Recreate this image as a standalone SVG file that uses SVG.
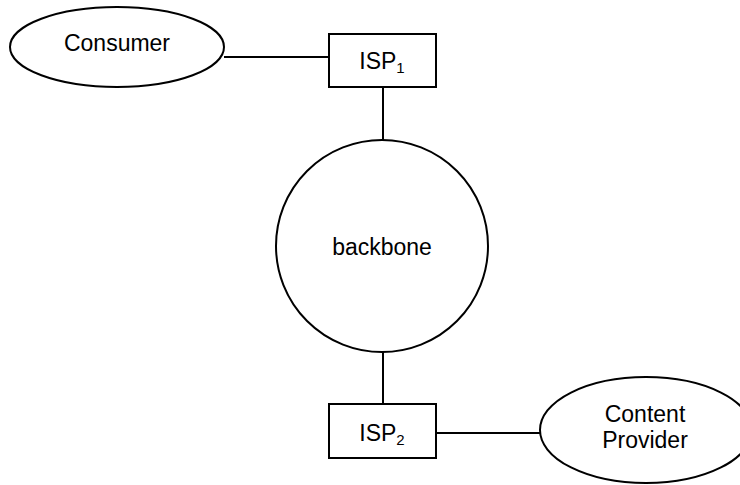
<svg xmlns="http://www.w3.org/2000/svg" width="740" height="485" viewBox="0 0 740 485">
<style>
.s{fill:#fff;stroke:#000;stroke-width:2}
.l{stroke:#000;stroke-width:2;fill:none}
text{font-family:"Liberation Sans",Arial,sans-serif;font-size:23px;fill:#000;text-anchor:middle}
.sub{font-size:15px}
</style>
<rect width="740" height="485" fill="#fff"/>
<g id="connectors">
<line class="l" x1="224" y1="57" x2="329" y2="57"/>
<line class="l" x1="383" y1="87" x2="383" y2="140"/>
<line class="l" x1="383" y1="352" x2="383" y2="404"/>
<line class="l" x1="437" y1="433" x2="541" y2="433"/>
</g>
<g id="consumer">
<ellipse class="s" cx="117" cy="47" rx="107" ry="40"/>
<text x="117" y="51">Consumer</text>
</g>
<g id="isp1">
<rect class="s" x="329" y="34" width="107" height="53"/>
<text x="382" y="69">ISP<tspan class="sub" dy="4">1</tspan></text>
</g>
<g id="backbone">
<circle class="s" cx="382" cy="246" r="106"/>
<text x="382" y="255">backbone</text>
</g>
<g id="isp2">
<rect class="s" x="329" y="404" width="107" height="54"/>
<text x="382" y="441">ISP<tspan class="sub" dy="4">2</tspan></text>
</g>
<g id="content-provider">
<ellipse class="s" cx="646" cy="430" rx="106" ry="53"/>
<text x="645" y="422">Content</text>
<text x="645" y="448">Provider</text>
</g>
</svg>
